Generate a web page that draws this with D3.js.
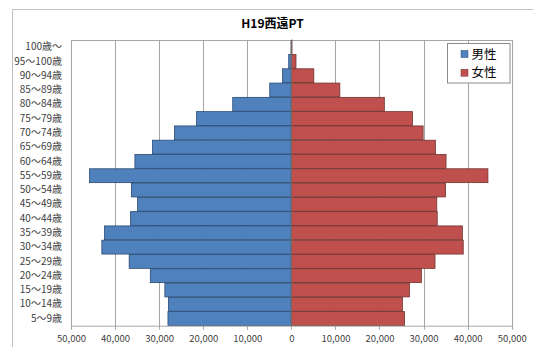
<!DOCTYPE html>
<html><head><meta charset="utf-8">
<script src="https://cdn.jsdelivr.net/npm/d3@7"></script>
<style>
body{margin:0;background:#fff;}
svg{display:block;font-family:"Noto Sans CJK JP","Noto Sans",sans-serif;}
</style></head><body>
<svg id="chart" width="533" height="347"></svg>
<script>
const title = "H19西遠PT";
const categories = ["100歳〜","95〜100歳","90〜94歳","85〜89歳","80〜84歳","75〜79歳","70〜74歳","65〜69歳","60〜64歳","55〜59歳","50〜54歳","45〜49歳","40〜44歳","35〜39歳","30〜34歳","25〜29歳","20〜24歳","15〜19歳","10〜14歳","5〜9歳"];
const male   = [40, 600, 2000, 4900, 13300, 21500, 26500, 31500, 35500, 45800, 36300, 34900, 36500, 42400, 43000, 36800, 32000, 28700, 27900, 28000];
const female = [150, 1050, 5100, 11000, 21100, 27500, 29900, 32700, 35100, 44600, 35000, 33000, 33100, 38800, 39000, 32600, 29500, 26800, 25200, 25700];
const seriesNames = ["男性","女性"];
const ticks = [-50000,-40000,-30000,-20000,-10000,0,10000,20000,30000,40000,50000];
const colors = ["#4f81bd","#c0504d"];
const strokes = ["#2a4a73","#6e3331"];

const svg = d3.select("#chart");
const L = 71, R = 511.7, T = 40, B = 325.7;

// outer chart border
svg.append("path").attr("d","M12.5,400 V9.5 H540").attr("fill","none").attr("stroke","#c0c0c0").attr("stroke-width",1);

svg.append("text").attr("x",272.5).attr("y",27.5).attr("text-anchor","middle")
  .attr("font-size",12).attr("font-weight","bold").attr("fill","#000").text(title);

const x = d3.scaleLinear().domain([-50000,50000]).range([L,R]);
const y = d3.scaleBand().domain(categories).range([T,B]).paddingInner(0.03).paddingOuter(0.015);

// gridlines
const g = svg.append("g");
g.selectAll("line.grid").data(ticks).join("line")
  .attr("x1",d=>Math.round(x(d))+0.5).attr("x2",d=>Math.round(x(d))+0.5)
  .attr("y1",T).attr("y2",B+4)
  .attr("stroke","#a6a6a6").attr("stroke-width",1);
// top border
g.append("line").attr("x1",L).attr("x2",R+1).attr("y1",T+0.5).attr("y2",T+0.5).attr("stroke","#a6a6a6");

// bars
const data = categories.map((c,i)=>({c,m:male[i],f:female[i]}));
svg.append("g").selectAll("rect").data(data).join("rect")
  .attr("x",d=>x(-d.m)).attr("width",d=>x(0)-x(-d.m))
  .attr("y",d=>y(d.c)).attr("height",y.bandwidth())
  .attr("fill",colors[0]).attr("stroke",strokes[0]).attr("stroke-width",0.8);
svg.append("g").selectAll("rect").data(data).join("rect")
  .attr("x",x(0)).attr("width",d=>x(d.f)-x(0))
  .attr("y",d=>y(d.c)).attr("height",y.bandwidth())
  .attr("fill",colors[1]).attr("stroke",strokes[1]).attr("stroke-width",0.8);

// zero axis
svg.append("line").attr("x1",x(0)).attr("x2",x(0)).attr("y1",T).attr("y2",B)
  .attr("stroke","#6b6b6b").attr("stroke-width",1.3);

// bottom axis
const xAxis = d3.axisBottom(x).tickValues(ticks).tickSize(0).tickPadding(10)
  .tickFormat(d=>d3.format(",")(Math.abs(d)));
const ax = svg.append("g").attr("transform",`translate(0,${B})`).call(xAxis);
ax.select(".domain").attr("stroke","#a6a6a6");
ax.selectAll("text").attr("font-size",9.5).attr("fill","#404040").attr("font-family","'Noto Sans CJK JP',sans-serif");

// category labels
const yAxis = d3.axisLeft(y).tickSize(0).tickPadding(9);
const ay = svg.append("g").attr("transform",`translate(${L},0)`).call(yAxis);
ay.select(".domain").attr("stroke","#a6a6a6");
ay.selectAll("text").attr("font-size",10).attr("fill","#404040").attr("font-family","'Noto Sans CJK JP',sans-serif");

// legend
const lg = svg.append("g");
lg.append("rect").attr("x",447.5).attr("y",43.5).attr("width",62.5).attr("height",39.5)
  .attr("fill","#fff").attr("stroke","#8c8c8c");
seriesNames.forEach((n,i)=>{
  const cy = 54 + i*18.7;
  lg.append("rect").attr("x",461).attr("y",cy-3.5).attr("width",7).attr("height",7)
    .attr("fill",colors[i]).attr("stroke",strokes[i]).attr("stroke-width",0.5);
  lg.append("text").attr("x",471.5).attr("y",cy+4.5).attr("font-size",12.5).attr("fill","#000").text(n);
});
</script></body></html>
